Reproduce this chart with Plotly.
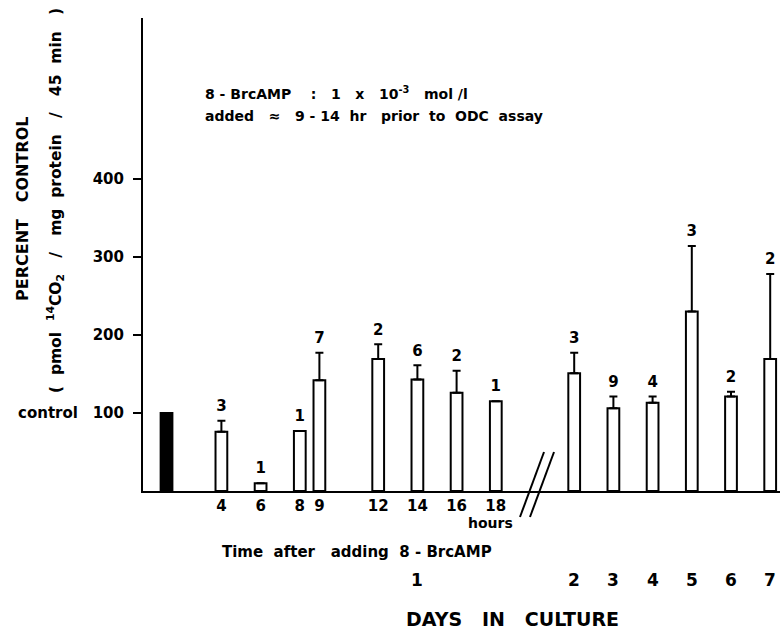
import plotly.graph_objects as go

# ---------------- data ----------------
control_value = 100
control_pos = 1.2

hour_pos = [4, 6, 8, 9, 12, 14, 16, 18]
hour_labels = ["4", "6", "8", "9", "12", "14", "16", "18"]
hour_values = [76, 10, 77, 142, 169, 143, 126, 115]
hour_err = [14, 0, 0, 35, 19, 18, 28, 0]
hour_n = ["3", "1", "1", "7", "2", "6", "2", "1"]

day_labels = ["1", "2", "3", "4", "5", "6", "7"]
day_label_pos = [14, 22, 24, 26, 28, 30, 32]
day_pos = [22, 24, 26, 28, 30, 32]
day_values = [151, 106, 113, 230, 121, 169]
day_err = [26, 15, 8, 84, 6, 109]
day_n = ["3", "9", "4", "3", "2", "2"]

y_ticks = [100, 200, 300, 400]

FONT = "DejaVu Sans"
NB = "\u00a0"

FIG_W, FIG_H = 780, 629
PLOT_L, PLOT_T, PLOT_W, PLOT_H = 143, 18, 637, 473


def px_x(px):
    return (px - PLOT_L) / PLOT_W


def px_y(py):
    return (PLOT_T + PLOT_H - py) / PLOT_H


fig = go.Figure()

# control bar (black)
fig.add_trace(go.Bar(
    x=[control_pos], y=[control_value], width=0.6,
    marker=dict(color="black", line=dict(color="black", width=2)),
    showlegend=False, hoverinfo="skip"))

# treated bars
all_pos = hour_pos + day_pos
all_vals = hour_values + day_values
all_err = hour_err + day_err
all_n = hour_n + day_n

fig.add_trace(go.Bar(
    x=all_pos, y=all_vals, width=0.6,
    marker=dict(color="white", line=dict(color="black", width=2)),
    error_y=dict(type="data", symmetric=False, array=all_err,
                 arrayminus=[0] * len(all_err), color="black",
                 thickness=2, width=4),
    showlegend=False, hoverinfo="skip"))

# n labels
fig.add_trace(go.Scatter(
    x=all_pos, y=[v + e for v, e in zip(all_vals, all_err)],
    mode="markers+text", text=all_n, textposition="top center",
    marker=dict(size=8, opacity=0),
    textfont=dict(family=FONT, size=15, color="black", weight="bold"),
    showlegend=False, hoverinfo="skip", cliponaxis=False))

fig.update_layout(
    width=FIG_W, height=FIG_H,
    margin=dict(l=PLOT_L, r=FIG_W - PLOT_L - PLOT_W, t=PLOT_T,
                b=FIG_H - PLOT_T - PLOT_H),
    paper_bgcolor="white", plot_bgcolor="white",
    font=dict(family=FONT, color="black", size=15, weight="bold"),
    barmode="overlay",
    xaxis=dict(range=[0, 32.5], showgrid=False, zeroline=False,
               showline=True, linecolor="black", linewidth=2,
               tickvals=hour_pos, ticktext=hour_labels, ticks="",
               tickfont=dict(family=FONT, size=15, weight="bold")),
    yaxis=dict(range=[0, 606], showgrid=False, zeroline=False,
               showline=True, linecolor="black", linewidth=2,
               tickvals=y_ticks, ticks="outside", ticklen=8, tickwidth=2,
               tickcolor="black", ticklabelstandoff=6,
               tickfont=dict(family=FONT, size=15, weight="bold")),
)


def A(x, y, text, size, xanchor="center", yanchor="middle", **kw):
    d = dict(x=x, y=y, xref="paper", yref="paper", text=text, showarrow=False,
             xanchor=xanchor, yanchor=yanchor,
             font=dict(size=size, family=FONT, weight="bold", color="black"))
    d.update(kw)
    return d


ann = []
# day labels
for lab, p in zip(day_labels, day_label_pos):
    ann.append(dict(x=p, xref="x", y=px_y(580), yref="paper", text=lab,
                    showarrow=False, xanchor="center", yanchor="middle",
                    font=dict(size=17, family=FONT, weight="bold")))

ann += [
    A(px_x(490), px_y(523), "hours", 14),
    A(px_x(220), px_y(552),
      "Time" + NB * 2 + "after" + NB * 3 + "adding" + NB * 2 + "8" + NB + "-" + NB + "BrcAMP",
      15, xanchor="left"),
    A(px_x(512), px_y(619), "DAYS" + NB * 3 + "IN" + NB * 3 + "CULTURE", 19),
    A(px_x(48), px_y(413), "control", 15),
    A(px_x(203), px_y(93),
      "8" + NB + "-" + NB + "BrcAMP" + NB * 4 + ":" + NB * 3 + "1" + NB * 3 + "x" + NB * 3
      + "10<sup>-3</sup>" + NB * 3 + "mol" + NB + "/l", 14, xanchor="left"),
    A(px_x(203), px_y(116),
      "added" + NB * 3 + "≈" + NB * 3 + "9" + NB + "-" + NB + "14" + NB * 2 + "hr" + NB * 3
      + "prior" + NB * 2 + "to" + NB * 2 + "ODC" + NB * 2 + "assay", 14, xanchor="left"),
    A(px_x(22), px_y(209), "PERCENT" + NB * 3 + "CONTROL", 16, textangle=-90),
    A(px_x(55), px_y(201),
      "(" + NB * 2 + "pmol" + NB * 2 + "<sup>14</sup>CO<sub>2</sub>" + NB * 3 + "/" + NB * 3
      + "mg" + NB * 2 + "protein" + NB * 3 + "/" + NB * 3 + "45" + NB * 2 + "min" + NB * 3 + ")",
      15.5, textangle=-90),
]
fig.update_layout(annotations=ann)

# axis break marks
for dx in (0, 10):
    fig.add_shape(type="line", xref="paper", yref="paper",
                  x0=px_x(520 + dx), y0=px_y(517), x1=px_x(544 + dx), y1=px_y(452),
                  line=dict(color="black", width=2))

fig.write_html(
    "out.html",
    config={"displayModeBar": False},
    post_script="document.body.style.margin='0';"
                "document.body.style.overflow='hidden';"
                "document.documentElement.style.overflow='hidden';")
